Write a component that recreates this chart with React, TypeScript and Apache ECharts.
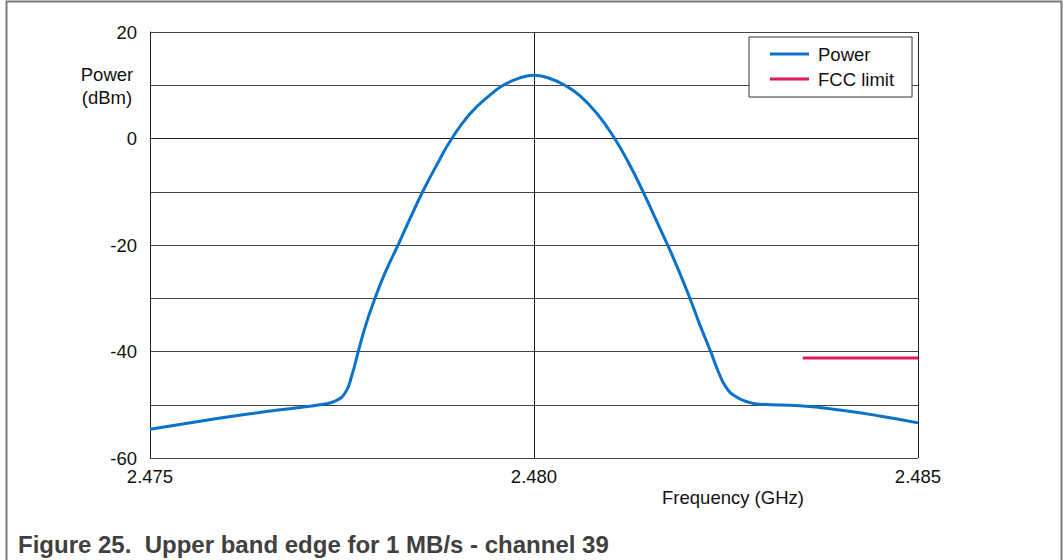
import React, { useEffect, useRef } from "react";
import * as echarts from "echarts";

const freqGHz = [
  2.475, 2.47565, 2.4763, 2.47695, 2.47721, 2.47741, 2.47754, 2.47763, 2.47771, 2.47781,
  2.47793, 2.47807, 2.47823, 2.47839, 2.47855, 2.47874, 2.47893, 2.47917, 2.47943, 2.4796,
  2.47982, 2.48, 2.48018, 2.4804, 2.4806, 2.48083, 2.48105, 2.48124, 2.48142, 2.48158,
  2.48174, 2.48189, 2.48203, 2.48216, 2.4823, 2.4824, 2.4825, 2.48262, 2.48279, 2.48294,
  2.48346, 2.48398, 2.4845, 2.485,
];
const powerDbm = [
  -54.6, -53.1, -51.7, -50.5, -50.0, -49.3, -47.8, -44.4, -40.1, -35.0,
  -30.0, -24.9, -20.0, -14.9, -10.0, -4.8, 0.0, 4.7, 8.2, 10.0,
  11.4, 11.9, 11.4, 10.0, 8.0, 4.5, 0.0, -4.8, -10.0, -15.0,
  -20.0, -25.0, -30.0, -35.0, -40.0, -43.8, -46.7, -48.4, -49.5, -49.9,
  -50.2, -51.0, -52.1, -53.4,
];
const fccFreq = [2.4835, 2.485];
const fccLimit = [-41.2, -41.2];

const seriesNames = ["Power", "FCC limit"];
const xAxisTitle = "Frequency (GHz)";
const yAxisTitle = "Power\n(dBm)";
const caption = "Figure 25.  Upper band edge for 1 MB/s - channel 39";

const FONT = "'Liberation Sans', Arial, Helvetica, sans-serif";
const FS = 18.5;

export default function App() {
  const ref = useRef<HTMLDivElement>(null);
  useEffect(() => {
    if (!ref.current) return;
    const chart = echarts.init(ref.current, undefined, { renderer: "svg" });
    chart.setOption({
      animation: false,
      backgroundColor: "#ffffff",
      textStyle: { fontFamily: FONT },
      grid: { left: 150, top: 32, right: 145, bottom: 102, containLabel: false },
      legend: {
        orient: "vertical",
        left: 749,
        top: 37,
        padding: [7, 18, 8, 21],
        itemGap: 5,
        itemWidth: 39,
        itemHeight: 3,
        icon: "rect",
        backgroundColor: "#ffffff",
        borderColor: "#333333",
        borderWidth: 1,
        borderRadius: 0,
        textStyle: {
          fontSize: FS,
          lineHeight: 20,
          color: "#111",
          fontFamily: FONT,
          padding: [0, 0, 0, 4],
        },
        data: seriesNames,
      },
      xAxis: {
        type: "value",
        min: 2.475,
        max: 2.485,
        interval: 0.005,
        axisLine: { show: true, lineStyle: { color: "#222", width: 1 } },
        axisTick: { show: false },
        axisLabel: {
          fontSize: FS,
          color: "#111",
          fontFamily: FONT,
          margin: 9,
          formatter: (v: number) => v.toFixed(3),
        },
        splitLine: { show: true, lineStyle: { color: "#222", width: 1 } },
      },
      yAxis: {
        type: "value",
        min: -60,
        max: 20,
        interval: 10,
        axisLine: { show: true, lineStyle: { color: "#222", width: 1 } },
        axisTick: { show: false },
        axisLabel: {
          interval: 1,
          fontSize: FS,
          color: "#111",
          fontFamily: FONT,
          margin: 13,
          formatter: (v: number) => (Math.round(v) % 20 === 0 ? String(v) : ""),
        },
        splitLine: { show: true, lineStyle: { color: "#444", width: 1 } },
      },
      series: [
        {
          name: seriesNames[0],
          type: "line",
          data: freqGHz.map((f, i) => [f, powerDbm[i]]),
          symbol: "none",
          smooth: 0.5,
          lineStyle: { color: "#0B72C9", width: 3 },
          itemStyle: { color: "#0B72C9" },
          z: 3,
        },
        {
          name: seriesNames[1],
          type: "line",
          data: fccFreq.map((f, i) => [f, fccLimit[i]]),
          symbol: "none",
          lineStyle: { color: "#E3195A", width: 3 },
          itemStyle: { color: "#E3195A" },
          z: 3,
        },
      ],
      graphic: [
        {
          type: "rect",
          shape: { x: 6.5, y: 1.5, width: 1055, height: 600 },
          style: { fill: "none", stroke: "#7a7a7a", lineWidth: 2 },
          silent: true,
        },
        {
          type: "text",
          x: 107,
          y: 86,
          style: {
            text: yAxisTitle,
            fontSize: FS,
            lineHeight: 23,
            fill: "#111",
            fontFamily: FONT,
            align: "center",
            verticalAlign: "middle",
          },
        },
        {
          type: "text",
          x: 733,
          y: 497,
          style: {
            text: xAxisTitle,
            fontSize: FS,
            fill: "#111",
            fontFamily: FONT,
            align: "center",
            verticalAlign: "middle",
          },
        },
        {
          type: "text",
          x: 18,
          y: 544,
          style: {
            text: caption,
            fontSize: 24,
            fontWeight: "bold",
            fill: "#404040",
            fontFamily: FONT,
            align: "left",
            verticalAlign: "middle",
          },
        },
      ],
    });
    return () => chart.dispose();
  }, []);
  return (
    <div
      ref={ref}
      style={{ position: "fixed", left: 0, top: 0, width: 1063, height: 560 }}
    />
  );
}
